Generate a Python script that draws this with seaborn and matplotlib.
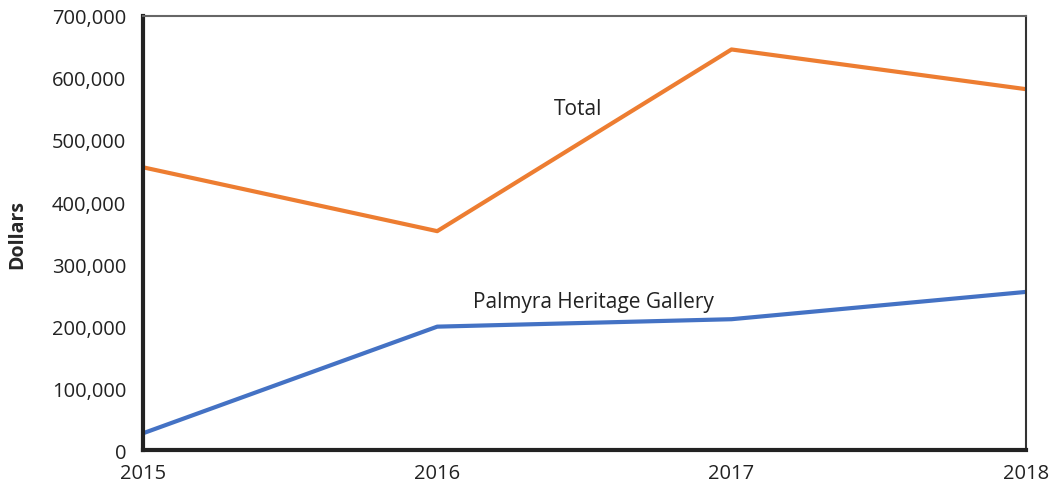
import seaborn as sns
import pandas as pd
import numpy as np
import matplotlib.pyplot as plt
from matplotlib.ticker import FuncFormatter

# Values
years = [2015, 2016, 2017, 2018]
total = [456000, 353000, 646000, 582000]
palmyra = [27000, 199000, 211000, 255000]

df = pd.DataFrame({
    'Year': years * 2,
    'Dollars': total + palmyra,
    'Series': ['Total'] * 4 + ['Palmyra Heritage Gallery'] * 4,
})

sns.set_style('white')
plt.rcParams['font.family'] = ['Open Sans', 'DejaVu Sans']

fig = plt.figure(figsize=(10.51, 4.85), dpi=100)
ax = fig.add_axes([0.136, 0.070, 0.840, 0.895])

sns.lineplot(data=df, x='Year', y='Dollars', hue='Series',
             palette={'Total': '#ED7D31', 'Palmyra Heritage Gallery': '#4472C4'},
             linewidth=3, legend=False, ax=ax)

ax.set_xlim(2015, 2018)
ax.set_ylim(0, 700000)
ax.set_xticks(years)
ax.set_yticks(np.arange(0, 700001, 100000))
ax.yaxis.set_major_formatter(FuncFormatter(lambda v, p: f'{int(v):,}'))
ax.tick_params(axis='both', direction='in', length=7, width=1.2, color='#333333',
               labelsize=14.5, labelcolor='#222222')
ax.tick_params(axis='x', pad=9)
ax.tick_params(axis='y', pad=12)

ax.set_xlabel('')
ax.set_ylabel('Dollars', fontsize=14, fontweight='bold', labelpad=18)

for side in ['left', 'bottom']:
    ax.spines[side].set_linewidth(3)
    ax.spines[side].set_color('#222222')
ax.spines['top'].set_linewidth(1.5)
ax.spines['top'].set_color('#666666')
ax.spines['right'].set_linewidth(1.5)
ax.spines['right'].set_color('#333333')

ax.text(2016.48, 550000, 'Total', fontsize=15, ha='center', va='center', color='#222222')
ax.text(2016.53, 240000, 'Palmyra Heritage Gallery', fontsize=15, ha='center', va='center',
        color='#222222')

fig.savefig('out.png', dpi=100)
